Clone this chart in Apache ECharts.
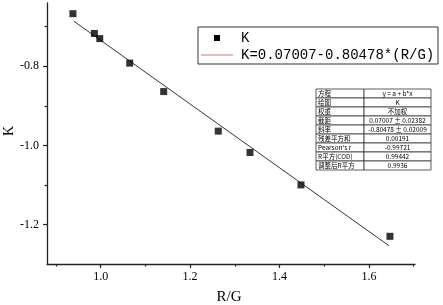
<!DOCTYPE html>
<html>
<head>
<meta charset="utf-8">
<script src="https://cdn.jsdelivr.net/npm/echarts@6/dist/echarts.min.js"></script>
<style>
  html, body { margin: 0; padding: 0; background: #fff; }
  #chart-container { width: 443px; height: 305px; }
</style>
</head>
<body>
<div id="chart-container"></div>
<script>
// measured points
var rgValues = [0.938, 0.986, 0.998, 1.065, 1.141, 1.263, 1.334, 1.448, 1.647];
var kValues = [-0.667, -0.717, -0.730, -0.792, -0.864, -0.964, -1.018, -1.100, -1.230];

// fitted line end points
var fitX = [0.94, 1.645];
var fitY = [-0.686, -1.254];

var xMajor = [1.0, 1.2, 1.4, 1.6];
var xMinor = [0.9, 1.1, 1.3, 1.5, 1.7];
var yMajor = [-1.2, -1.0, -0.8];
var yMinor = [-1.1, -0.9, -0.7];

var xName = 'R/G';
var yName = 'K';
var legendNames = ['K', 'K=0.07007-0.80478*(R/G)'];

var tableKeys = ['方程', '绘图', '权重', '截距', '斜率', '残差平方和', "Pearson's r", 'R平方(COD)', '调整后R平方'];
var tableVals = ['y = a + b*x', 'K', '不加权', '0.07007 ± 0.02382', '-0.80478 ± 0.02009', '0.00191', '-0.99721', '0.99442', '0.9936'];

var serif = "'Liberation Serif', 'Noto Sans CJK SC', serif";
var mono = "'Liberation Mono', monospace";
var axisColor = '#222';

var dom = document.getElementById('chart-container');
var myChart = echarts.init(dom, null, { renderer: 'canvas' });

var scatterData = rgValues.map(function (x, i) { return [x, kValues[i]]; });
var fitData = fitX.map(function (x, i) { return [x, fitY[i]]; });

// stats table as graphic elements
var tbl = { x: 316, y: 89, w1: 48, w2: 67, rh: 9 };
var tableEls = [];
tableKeys.forEach(function (key, i) {
    var y = tbl.y + i * tbl.rh;
    tableEls.push({ type: 'rect', shape: { x: tbl.x, y: y, width: tbl.w1, height: tbl.rh },
        style: { fill: '#fff', stroke: '#333', lineWidth: 0.8 } });
    tableEls.push({ type: 'rect', shape: { x: tbl.x + tbl.w1, y: y, width: tbl.w2, height: tbl.rh },
        style: { fill: '#fff', stroke: '#333', lineWidth: 0.8 } });
    tableEls.push({ type: 'text', x: tbl.x + 2, y: y + tbl.rh / 2 + 0.5,
        style: { text: key, font: "6.5px 'Noto Sans CJK SC', serif", fill: '#000', verticalAlign: 'middle', align: 'left' } });
    tableEls.push({ type: 'text', x: tbl.x + tbl.w1 + tbl.w2 / 2, y: y + tbl.rh / 2 + 0.5,
        style: { text: tableVals[i], font: "6.5px 'Noto Sans CJK SC', serif", fill: '#000', verticalAlign: 'middle', align: 'center' } });
});

var legendEls = [
    { type: 'rect', shape: { x: 198, y: 27, width: 240, height: 37 },
      style: { fill: '#fff', stroke: '#333', lineWidth: 1 } },
    { type: 'rect', shape: { x: 214, y: 35, width: 6, height: 6 }, style: { fill: '#000' } },
    { type: 'line', shape: { x1: 201, y1: 55, x2: 233, y2: 55 }, style: { stroke: '#c87878', lineWidth: 1 } },
    { type: 'text', x: 241, y: 38, style: { text: legendNames[0], font: '14px ' + mono, fill: '#000', verticalAlign: 'middle' } },
    { type: 'text', x: 241, y: 55, style: { text: legendNames[1], font: '14px ' + mono, fill: '#000', verticalAlign: 'middle' } }
];

var nameEls = [
    { type: 'text', x: 9, y: 131, rotation: Math.PI / 2,
      style: { text: yName, font: '14px ' + serif, fill: '#000', align: 'center', verticalAlign: 'middle' } },
    { type: 'text', x: 229, y: 297,
      style: { text: xName, font: '15px ' + serif, fill: '#000', align: 'center', verticalAlign: 'middle' } }
];

option = {
    animation: false,
    backgroundColor: '#fff',
    grid: { left: 47, right: 28, top: 3, bottom: 41, containLabel: false, outerBoundsMode: 'none' },
    xAxis: [{
        type: 'value', min: 0.88, max: 1.703,
        axisLine: { onZero: false, lineStyle: { color: axisColor, width: 1.3 } },
        axisTick: { customValues: xMajor, length: 4, lineStyle: { color: axisColor, width: 1.2 } },
        axisLabel: { customValues: xMajor, formatter: function (v) { return v.toFixed(1); },
            fontFamily: serif, fontSize: 12, color: '#000', margin: 7 },
        splitLine: { show: false }
    }, {
        type: 'value', min: 0.88, max: 1.703, position: 'bottom', gridIndex: 0,
        axisLine: { show: false, onZero: false },
        axisTick: { customValues: xMinor, length: 2.5, lineStyle: { color: axisColor, width: 1.2 } },
        axisLabel: { show: false },
        splitLine: { show: false }
    }],
    yAxis: [{
        type: 'value', min: -1.3, max: -0.64,
        axisLine: { onZero: false, lineStyle: { color: axisColor, width: 1.3 } },
        axisTick: { customValues: yMajor, length: 4, lineStyle: { color: axisColor, width: 1.2 } },
        axisLabel: { customValues: yMajor, formatter: function (v) { return v.toFixed(1); },
            fontFamily: serif, fontSize: 12, color: '#000', margin: 8 },
        splitLine: { show: false }
    }, {
        type: 'value', min: -1.3, max: -0.64, position: 'left', gridIndex: 0,
        axisLine: { show: false, onZero: false },
        axisTick: { customValues: yMinor, length: 2.5, lineStyle: { color: axisColor, width: 1.2 } },
        axisLabel: { show: false },
        splitLine: { show: false }
    }],
    series: [{
        name: legendNames[0],
        type: 'scatter',
        symbol: 'rect',
        symbolSize: 7,
        itemStyle: { color: '#000' },
        data: scatterData,
        z: 3
    }, {
        name: legendNames[1],
        type: 'line',
        showSymbol: false,
        symbol: 'none',
        lineStyle: { color: '#333', width: 1 },
        data: fitData,
        z: 2
    }],
    graphic: legendEls.concat(tableEls, nameEls)
};

myChart.setOption(option);
window.addEventListener('resize', myChart.resize);
</script>
</body>
</html>
